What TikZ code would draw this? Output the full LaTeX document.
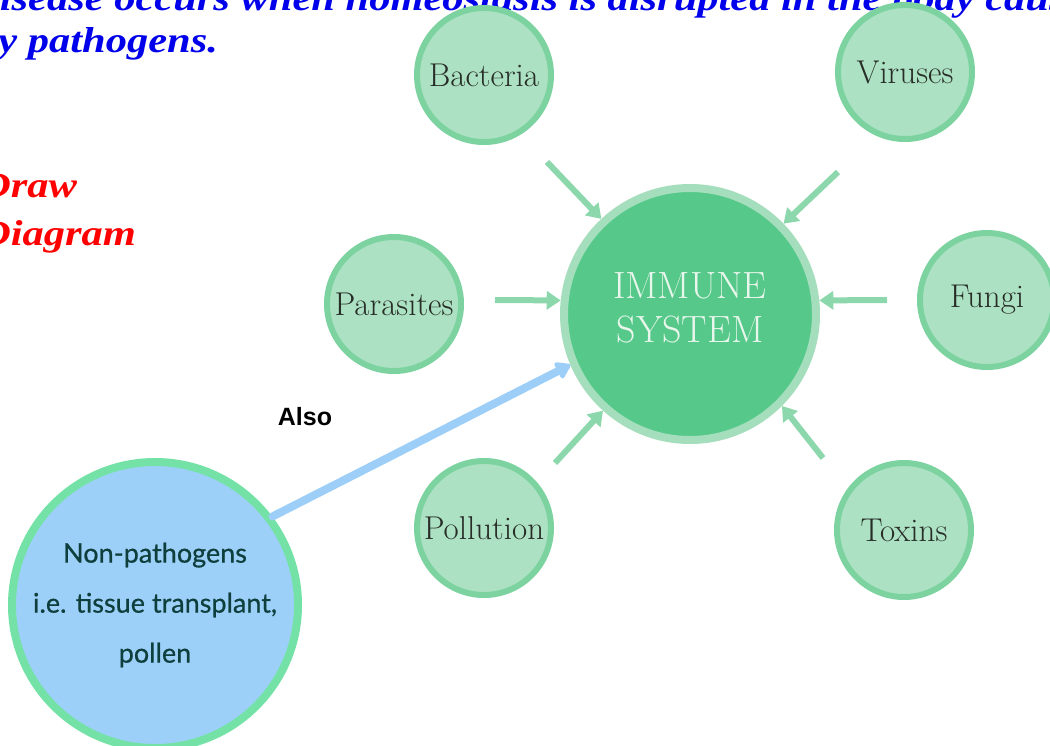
\documentclass[tikz,border=0pt]{standalone}
\usepackage{fontspec}
\usetikzlibrary{arrows.meta}
\newfontfamily\titlefont{Liberation Serif}
\newfontfamily\alsofont{Liberation Sans}
\newfontfamily\npfont[FakeBold=0.6]{Lato}
\definecolor{smallfill}{RGB}{172,226,195}
\definecolor{smallring}{RGB}{125,211,160}
\definecolor{immfill}{RGB}{86,201,138}
\definecolor{immring}{RGB}{165,222,188}
\definecolor{arrowgreen}{RGB}{140,216,172}
\definecolor{npfill}{RGB}{157,208,249}
\definecolor{npring}{RGB}{116,226,166}
\definecolor{bluearrow}{RGB}{156,206,247}
\definecolor{labeltext}{RGB}{40,45,40}
\definecolor{nptext}{RGB}{14,63,60}
\definecolor{immtext}{RGB}{232,246,236}
\definecolor{titleblue}{RGB}{0,0,235}
\begin{document}
\begin{tikzpicture}[x=1pt,y=-1pt,
	agent/.style={circle,draw=smallring,fill=smallfill,line width=6pt,minimum size=134pt,inner sep=0pt,
		text=labeltext,font=\fontsize{33}{36}\selectfont},
	inarrow/.style={draw=arrowgreen,line width=6pt,-{Triangle[length=14pt,width=18pt]}},
	heading/.style={anchor=base west,inner sep=0pt,xscale=1.18,transform shape,
		font=\titlefont\bfseries\itshape\fontsize{36}{40}\selectfont}]
	\useasboundingbox (0,0) rectangle (1050,745);
	\clip (0,0) rectangle (1050,745);

	% heading text
	\node[heading,text=titleblue] (line1) at (-31,10) {Disease occurs when homeostasis is disrupted in the body caused};
	\node[heading,text=titleblue] (line2) at (-23,52) {by pathogens.};
	\node[heading,text=red] (draw) at (-20,197) {Draw};
	\node[heading,text=red] (diag) at (-20,245) {Diagram};

	% centre and agents
	\node[circle,draw=immring,fill=immfill,line width=8pt,minimum size=252pt,inner sep=0pt] (imm) at (690,314) {};
	\node[text=immtext,align=center,font=\fontsize{38}{44}\selectfont] (immlabel) at (690,308) {IMMUNE\\SYSTEM};
	\node[agent] (bac) at (484,75) {Bacteria};
	\node[agent] (vir) at (905,72) {Viruses};
	\node[agent] (par) at (394,304) {Parasites};
	\node[agent] (fun) at (987,300) {Fungi};
	\node[agent] (pol) at (484,528) {Pollution};
	\node[agent] (tox) at (904,530) {Toxins};

	\coordinate (bact) at (547,162);
	\coordinate (virt) at (838,172);
	\coordinate (part) at (495,300);
	\coordinate (funt) at (887,300);
	\coordinate (polt) at (555,463);
	\coordinate (toxt) at (823,458);
	\foreach \t/\a in {bact/133,virt/44,part/174,funt/6,polt/228,toxt/315}
		\draw[inarrow] (\t) -- (imm.\a);

	% non-pathogens
	\node[circle,draw=npring,fill=npfill,line width=8pt,minimum size=286pt,inner sep=0pt,
		text=nptext,align=center,font=\npfont\fontsize{27}{50}\selectfont] (np) at (155,605)
		{Non-pathogens\\i.e. tissue transplant,\\pollen};
	\node[font=\alsofont\bfseries\fontsize{25}{28}\selectfont] (also) at (305,417) {Also};
	\draw[bluearrow,line width=8pt,line cap=round,-{Triangle[length=16pt,width=20pt,round]}] (np.37) -- (imm.203);
\end{tikzpicture}
\end{document}
